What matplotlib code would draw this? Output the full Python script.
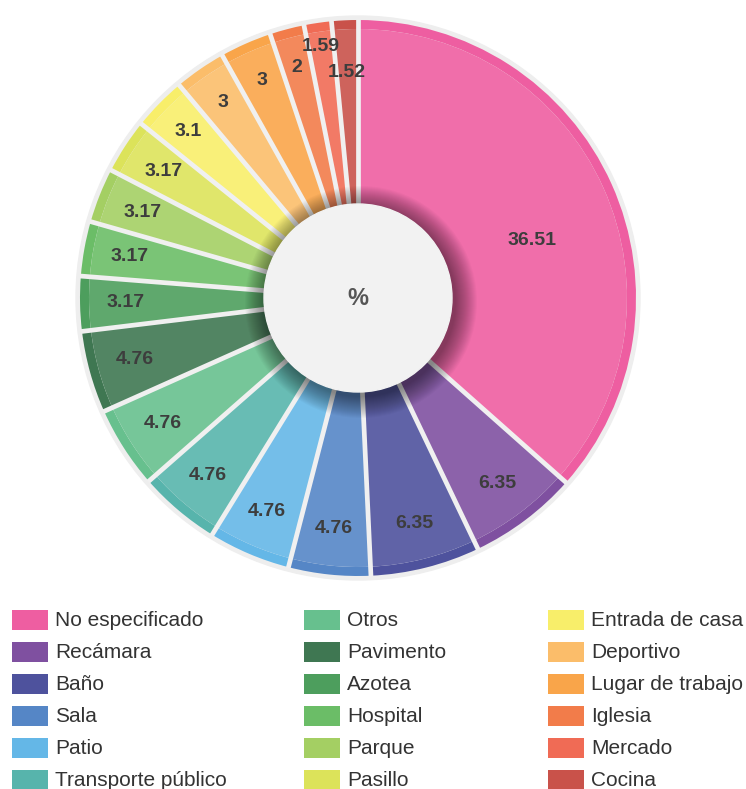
import numpy as np
import matplotlib.pyplot as plt
from matplotlib.patches import Wedge, Circle, Rectangle
from matplotlib.colors import to_rgb

plt.rcParams['font.family'] = ['Liberation Sans', 'DejaVu Sans']

# data, clockwise from 12 o'clock
categories = ['No especificado', 'Recámara', 'Baño', 'Sala', 'Patio',
              'Transporte público', 'Otros', 'Pavimento', 'Azotea', 'Hospital',
              'Parque', 'Pasillo', 'Entrada de casa', 'Deportivo',
              'Lugar de trabajo', 'Iglesia', 'Mercado', 'Cocina']
values = [36.51, 6.35, 6.35, 4.76, 4.76, 4.76, 4.76, 4.76, 3.17, 3.17,
          3.17, 3.17, 3.1, 3, 3, 2, 1.59, 1.52]
labels = ['36.51', '6.35', '6.35', '4.76', '4.76', '4.76', '4.76', '4.76',
          '3.17', '3.17', '3.17', '3.17', '3.1', '3', '3', '2', '1.59', '1.52']
colors = ['#ee5ea1', '#7f50a0', '#4e529d', '#5586c6', '#64b7e7', '#57b4ac',
          '#67c08e', '#3f7752', '#4d9e5d', '#6bbd67', '#a4cf63', '#dce35a',
          '#f8ee6a', '#fbbd6a', '#f9a54a', '#f27c4a', '#f06b55', '#c9524a']

W, H = 746, 789
fig = plt.figure(figsize=(W / 100, H / 100), dpi=100)
ax = fig.add_axes([0, 0, 1, 1])
ax.set_xlim(0, W)
ax.set_ylim(0, H)
ax.set_aspect('equal')
ax.axis('off')

cx, cy = 358, H - 298
R, rim, hole = 278, 9, 94
gap = '#f0f0f0'


def lighten(c, f=0.1):
    r, g, b = to_rgb(c)
    return (r + (1 - r) * f, g + (1 - g) * f, b + (1 - b) * f)


# grey outer ring
ax.add_patch(Circle((cx, cy), R + 4, color='#eeeeee', zorder=1))

total = sum(values)
start = 90.0
mids = []
for v, c in zip(values, colors):
    span = 360.0 * v / total
    t1, t2 = start - span, start
    ax.add_patch(Wedge((cx, cy), R, t1, t2, width=rim, color=c, zorder=2, lw=0))
    ax.add_patch(Wedge((cx, cy), R - rim, t1, t2, color=lighten(c), zorder=2, lw=0))
    mids.append(np.deg2rad((t1 + t2) / 2))
    start = t1

# gaps between slices
ang = 90.0
for v in values:
    a = np.deg2rad(ang)
    ax.plot([cx, cx + (R + 1) * np.cos(a)], [cy, cy + (R + 1) * np.sin(a)],
            color=gap, lw=3.4, solid_capstyle='butt', zorder=3)
    ang -= 360.0 * v / total

# soft shadow round the centre
for k in range(22, 0, -1):
    ax.add_patch(Circle((cx + 3, cy - 4), hole + k, color='black',
                        alpha=0.022, lw=0, zorder=4))
ax.add_patch(Circle((cx, cy), hole, color='#f2f2f2', zorder=5))
ax.text(cx, cy, '%', ha='center', va='center', fontsize=17,
        fontweight='bold', color='#555555', zorder=6)

# value labels
for i, (m, lab) in enumerate(zip(mids, labels)):
    r = 238
    if i == 0:
        r, m = 183, m - np.deg2rad(6)
    elif lab == '1.59':
        r = 254
    elif lab == '1.52':
        r = 226
    elif values[i] >= 4 or values[i] == 3.17:
        r = 232
    ax.text(cx + r * np.cos(m), cy + r * np.sin(m), lab, ha='center',
            va='center', fontsize=14, fontweight='bold', color='#3d3d3d',
            zorder=7)

# legend, 3 columns x 6 rows
col_x = [12, 304, 548]
for i, (name, c) in enumerate(zip(categories, colors)):
    col, row = divmod(i, 6)
    yc = H - (620 + 32 * row)
    ax.add_patch(Rectangle((col_x[col], yc - 10), 36, 20, color=c, lw=0))
    ax.text(col_x[col] + 43, yc - 1, name, ha='left', va='center',
            fontsize=15, color='#333333')

fig.savefig('out.png', dpi=100)
